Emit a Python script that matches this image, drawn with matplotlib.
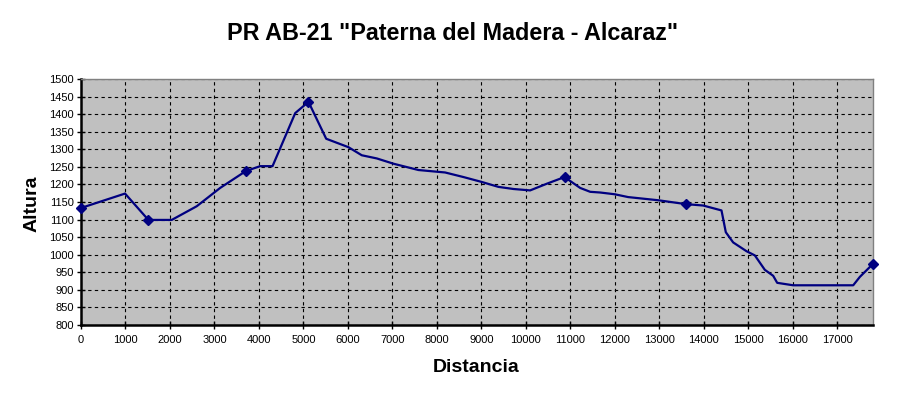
import matplotlib
matplotlib.use("Agg")
import matplotlib.pyplot as plt

plt.rcParams['font.family'] = ['Liberation Sans', 'DejaVu Sans']

distance = [0, 990, 1515, 2040, 2603, 3128, 3706, 4028, 4306, 4816, 5114, 5512,
            6012, 6312, 6649, 7024, 7586, 8186, 8598, 9010, 9385, 9723, 10097,
            10472, 10870, 11222, 11447, 11672, 12000, 12300, 12975, 13597, 13987,
            14399, 14496, 14661, 14961, 15149, 15373, 15561, 15651, 16011, 17360,
            17510, 17805]
altitude = [1133, 1174, 1099, 1099, 1138, 1190, 1238, 1252, 1252, 1403, 1435, 1330,
            1306, 1283, 1274, 1259, 1241, 1234, 1221, 1207, 1193, 1187, 1183,
            1202, 1221, 1190, 1179, 1177, 1172, 1164, 1155, 1144, 1140,
            1126, 1064, 1035, 1010, 998, 957, 940, 920, 913, 913,
            937, 974]
marker_dist = [0, 1515, 3706, 5114, 10870, 13597, 17805]
marker_alt = [1133, 1099, 1238, 1435, 1221, 1144, 974]

x_ticks = list(range(0, 18000, 1000))
y_ticks = list(range(800, 1501, 50))

title = 'PR AB-21 "Paterna del Madera - Alcaraz"'
xlabel = 'Distancia'
ylabel = 'Altura'

fig = plt.figure(figsize=(9.03, 3.98), dpi=100)
ax = fig.add_axes([81/903, 1-325/398, (873-81)/903, (325-79)/398])
ax.set_facecolor('#C0C0C0')

ax.plot(distance, altitude, color='#000080', lw=1.6, zorder=3, clip_on=False)
ax.plot(marker_dist, marker_alt, linestyle='none', marker='D', ms=5.6,
        color='#000080', zorder=4, clip_on=False)

ax.set_xlim(0, 17805)
ax.set_ylim(800, 1500)
ax.set_xticks(x_ticks)
ax.set_yticks(y_ticks)
ax.grid(True, color='black', linestyle=(0, (3, 3)), linewidth=0.8)
ax.set_axisbelow(True)

for s in ['top', 'right']:
    ax.spines[s].set_color('#808080')
    ax.spines[s].set_linewidth(1.0)
for s in ['left', 'bottom']:
    ax.spines[s].set_color('black')
    ax.spines[s].set_linewidth(1.8)

ax.tick_params(axis='both', direction='inout', length=6, width=1, colors='black',
               labelsize=8)
ax.tick_params(axis='x', pad=4)
ax.tick_params(axis='y', pad=2)

fig.text(453/903, 1-33/398, title, ha='center', va='center',
         fontsize=16.8, fontweight='bold')
fig.text(476/903, 1-368/398, xlabel, ha='center', va='center',
         fontsize=14, fontweight='bold')
fig.text(32/903, 1-204/398, ylabel, ha='center', va='center',
         fontsize=14, fontweight='bold', rotation=90)

fig.savefig('out.png', dpi=100, facecolor='white')
